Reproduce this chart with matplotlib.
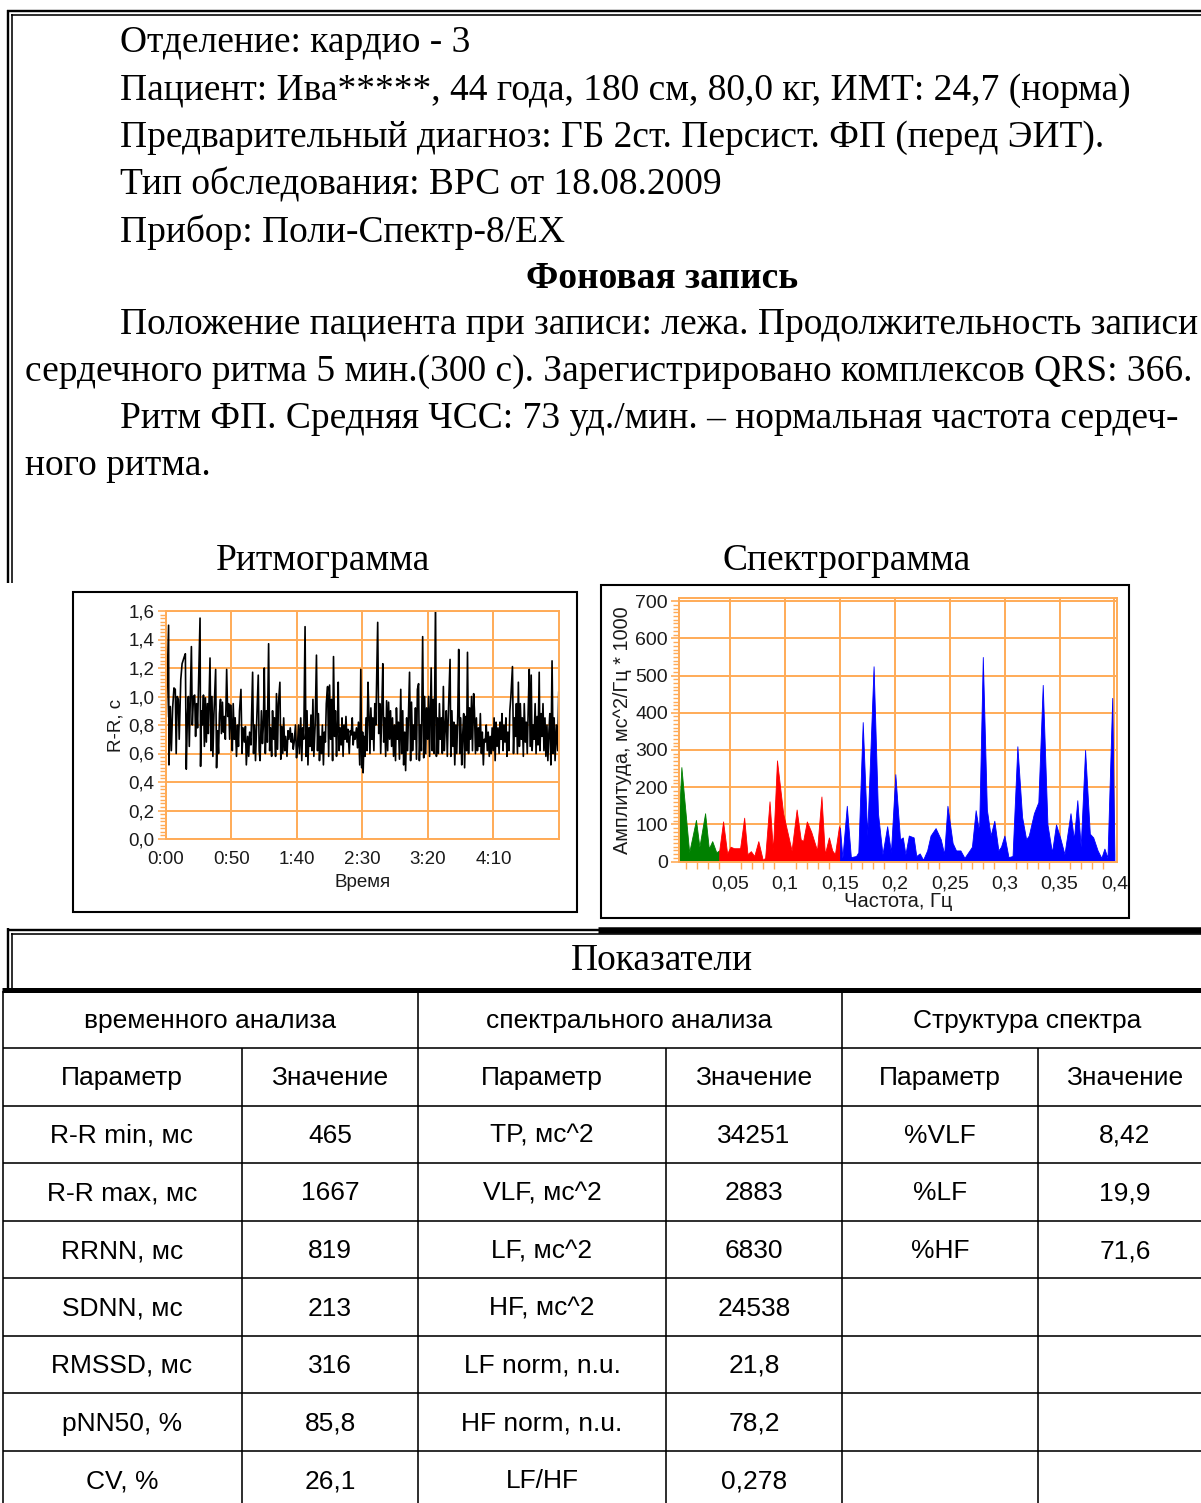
import matplotlib
matplotlib.use('Agg')
import matplotlib.pyplot as plt
from matplotlib.patches import Rectangle
from matplotlib.ticker import MultipleLocator, FuncFormatter

W, H = 1201, 1503
SERIF = 'Liberation Serif'
SANS = 'Liberation Sans'
GRID = '#ffab57'

# ---- report text ----
info_lines = [
    "Отделение: кардио - 3",
    "Пациент: Ива*****, 44 года, 180 см, 80,0 кг, ИМТ: 24,7 (норма)",
    "Предварительный диагноз: ГБ 2ст. Персист. ФП (перед ЭИТ).",
    "Тип обследования: ВРС от 18.08.2009",
    "Прибор: Поли-Спектр-8/EX",
]
section_title = "Фоновая запись"
paragraph_lines = [
    ("Положение пациента при записи: лежа. Продолжительность записи", True),
    ("сердечного ритма 5 мин.(300 с). Зарегистрировано комплексов QRS: 366.", False),
    ("Ритм ФП. Средняя ЧСС: 73 уд./мин. – нормальная частота сердеч-", True),
    ("ного ритма.", False),
]

# ---- rhythmogram: R-R intervals (s) against record time (s) ----
rr_time = [
    0.5, 2.2, 2.5, 3.5, 4.3, 5.3, 6.3, 7.3, 8.0, 8.8, 9.6, 10.3, 11.5, 12.5, 14.2, 15.0,
    15.7, 16.5, 17.3, 18.0, 19.6, 20.3, 21.2, 22.1, 22.8, 23.5, 24.3, 26.2, 26.6, 27.3,
    28.0, 28.8, 29.5, 30.3, 31.0, 31.8, 32.5, 33.8, 34.5, 35.3, 36.0, 36.8, 38.1, 38.8,
    39.5, 40.3, 41.0, 41.8, 42.5, 43.3, 44.0, 44.8, 45.5, 46.5, 47.3, 48.0, 48.8, 49.5,
    50.3, 50.8, 51.5, 52.3, 53.0, 54.0, 54.8, 55.5, 56.3, 57.4, 58.2, 59.0, 60.0, 60.8,
    61.5, 62.5, 63.3, 64.0, 65.0, 66.3, 67.0, 67.8, 68.5, 69.5, 70.6, 71.3, 72.0, 73.0,
    73.8, 74.5, 75.2, 76.0, 76.8, 77.5, 78.5, 79.3, 80.0, 80.8, 81.5, 82.3, 83.0, 83.8,
    84.5, 85.3, 86.0, 87.1, 87.8, 88.5, 89.3, 90.0, 90.8, 91.5, 92.5, 93.3, 94.0, 95.0,
    95.8, 96.5, 97.3, 98.0, 99.0, 99.8, 100.5, 101.3, 102.0, 103.0, 103.8, 104.5, 105.3,
    106.3, 107.0, 107.8, 108.5, 109.3, 110.0, 110.8, 111.5, 112.3, 113.0, 114.0, 115.0,
    115.8, 116.5, 117.3, 118.0, 118.8, 119.5, 120.3, 121.0, 121.8, 122.5, 123.5, 124.3,
    125.0, 125.8, 126.5, 127.3, 128.0, 128.8, 129.5, 130.3, 131.0, 131.6, 132.3, 133.0,
    133.8, 134.5, 135.3, 136.0, 136.8, 137.5, 138.3, 139.0, 140.0, 140.8, 141.5, 142.3,
    143.0, 143.8, 144.5, 145.5, 146.3, 147.0, 148.0, 148.8, 149.5, 150.2, 150.6, 151.3,
    152.0, 152.8, 153.5, 154.3, 155.0, 155.8, 156.5, 157.3, 158.0, 158.8, 159.5, 160.3,
    161.7, 162.5, 163.3, 164.0, 164.8, 165.6, 166.3, 167.0, 167.8, 168.5, 169.3, 170.0,
    170.8, 171.5, 172.3, 173.0, 173.8, 174.5, 175.3, 176.0, 176.8, 177.5, 178.3, 179.3,
    180.0, 180.8, 181.5, 182.3, 183.0, 183.8, 184.5, 185.3, 186.0, 186.8, 187.5, 188.3,
    189.0, 189.8, 190.5, 191.3, 192.0, 192.9, 193.5, 194.3, 195.0, 196.0, 196.8, 197.5,
    198.3, 199.0, 199.8, 200.5, 201.3, 202.5, 203.3, 204.0, 204.8, 205.8, 206.5, 207.3,
    208.0, 208.8, 209.5, 210.3, 211.0, 211.8, 212.5, 213.3, 214.0, 214.8, 215.5, 216.9,
    217.5, 218.3, 219.0, 219.8, 220.5, 221.3, 222.0, 222.8, 223.5, 224.3, 225.0, 225.8,
    226.5, 227.3, 228.0, 228.8, 229.5, 230.2, 231.0, 231.8, 232.5, 233.3, 234.0, 234.9,
    235.5, 236.3, 237.0, 237.8, 238.5, 239.3, 240.0, 240.8, 241.5, 242.3, 243.0, 243.8,
    244.5, 245.3, 246.0, 246.8, 247.5, 248.3, 249.0, 249.8, 250.5, 251.3, 252.0, 252.8,
    253.5, 254.3, 255.0, 255.8, 256.5, 257.3, 258.0, 258.8, 259.5, 260.3, 261.0, 261.8,
    262.5, 263.3, 264.5, 265.3, 266.0, 266.8, 267.5, 268.3, 269.0, 269.8, 270.5, 271.3,
    272.0, 272.8, 273.5, 274.3, 275.0, 275.8, 276.5, 277.3, 278.0, 278.8, 279.5, 280.3,
    281.0, 281.8, 282.5, 283.3, 284.0, 284.9, 285.5, 286.3, 287.0, 287.8, 288.5, 289.3,
    290.0, 290.8, 291.5, 292.3, 293.0, 293.8, 294.7, 295.5, 296.3, 297.0, 298.0, 299.0,
    299.8,
]
rr_value = [
    0.86, 1.50, 0.52, 0.93, 0.62, 0.92, 1.06, 1.05, 0.60, 1.00, 0.98, 0.70, 1.12, 1.23, 1.28, 1.30,
    0.49, 0.85, 1.00, 0.65, 1.35, 0.80, 1.00, 1.01, 0.72, 0.95, 0.78, 1.55, 0.51, 0.90,
    0.80, 1.01, 0.65, 0.99, 0.68, 0.95, 0.74, 1.27, 0.62, 1.00, 0.58, 0.88, 1.19, 0.50,
    0.76, 0.60, 0.88, 0.98, 0.74, 0.96, 0.75, 0.86, 0.70, 1.19, 0.86, 0.95, 0.70, 0.94,
    0.78, 0.62, 0.95, 0.70, 0.85, 0.58, 0.80, 0.65, 0.90, 1.05, 0.60, 0.78, 0.68, 0.79,
    0.52, 0.72, 0.58, 0.75, 0.66, 1.17, 0.60, 0.80, 0.55, 0.85, 1.15, 0.62, 0.55, 0.90,
    0.67, 0.80, 1.20, 0.60, 0.90, 0.68, 1.37, 0.62, 0.78, 0.58, 0.90, 0.70, 0.85, 0.58,
    1.02, 0.63, 0.95, 1.10, 0.56, 0.79, 0.60, 0.85, 0.62, 0.72, 0.58, 0.76, 0.70, 0.78,
    0.68, 0.74, 0.63, 0.68, 0.80, 0.57, 0.65, 0.80, 0.60, 0.85, 0.55, 0.78, 0.70,
    1.49, 0.58, 0.90, 0.52, 0.78, 0.65, 0.87, 0.62, 0.98, 0.58, 0.80, 1.29,
    0.62, 0.88, 0.55, 0.72, 0.60, 0.80, 0.52, 0.75, 0.68, 0.95, 1.07, 0.58,
    1.08, 0.70, 0.98, 0.55, 1.28, 0.72, 0.90, 0.58, 0.80, 1.10, 0.62, 0.78,
    0.66, 0.85, 0.58, 0.80, 0.70, 0.86, 0.68, 0.77, 0.60, 0.76, 0.73, 0.85,
    0.66, 0.75, 0.70, 0.78, 0.64, 0.82, 0.52, 1.19, 0.50, 0.75, 0.465, 0.72,
    0.58, 0.85, 0.62, 1.10, 0.88, 0.60, 0.92, 0.70, 0.85, 0.62, 0.95, 0.80,
    1.52, 0.74, 0.95, 0.60, 0.88, 1.23, 0.68, 0.85, 0.58, 0.97, 0.62, 0.96,
    0.70, 0.90, 0.65, 0.85, 0.58, 0.80, 0.55, 0.92, 0.70, 0.82, 0.56, 1.05,
    0.60, 0.90, 0.52, 0.75, 0.48, 0.85, 0.62, 0.90, 1.17, 0.55, 0.96, 0.62,
    0.80, 0.70, 0.92, 0.56, 1.05, 1.09, 0.55, 0.80, 0.62, 1.42, 0.57, 1.00,
    0.60, 0.92, 0.70, 1.00, 0.58, 1.20, 0.62, 0.98, 0.60, 1.667, 0.58, 0.85,
    0.60, 0.95, 0.70, 0.85, 0.60, 1.07, 0.62, 0.80, 0.90, 0.58, 0.85, 1.26,
    0.58, 0.90, 0.65, 0.82, 0.52, 0.80, 0.60, 0.88, 1.33, 0.60, 0.85, 0.52,
    0.72, 0.88, 0.50, 0.86, 0.62, 1.31, 0.60, 0.92, 0.70, 1.00, 0.62, 1.02,
    0.90, 0.60, 0.85, 0.62, 0.78, 0.65, 0.88, 0.60, 0.75, 0.52, 0.70, 0.68,
    0.80, 0.62, 0.75, 0.58, 0.72, 0.60, 0.78, 0.62, 0.85, 0.55, 0.82, 0.65,
    0.78, 0.60, 0.82, 0.70, 0.88, 0.62, 0.80, 0.68, 0.85, 0.58, 0.75, 0.62,
    0.90, 1.00, 1.21, 0.60, 0.85, 0.72, 0.95, 0.60, 1.10, 0.65, 0.95, 0.70,
    0.85, 0.58, 0.95, 0.68, 0.82, 0.60, 0.90, 1.19, 0.65, 1.15, 0.62, 0.80,
    0.70, 0.95, 0.60, 0.86, 0.66, 1.17, 0.62, 0.88, 0.72, 0.95, 0.62, 0.85,
    0.58, 0.80, 0.55, 0.75, 0.88, 0.52, 1.25, 0.60, 0.85, 0.55, 0.80, 0.62,
    1.03,
]
time_ticks = [0, 50, 100, 150, 200, 250]
time_labels = ['0:00', '0:50', '1:40', '2:30', '3:20', '4:10']

# ---- spectrogram: spectral density, ms^2/Hz * 1000 ----
spec_freq = [
    0.0033, 0.0055, 0.0126, 0.0188, 0.0219, 0.0271, 0.0305, 0.0336, 0.0373, 0.04,
    0.0435, 0.0472, 0.0503, 0.0534, 0.059, 0.0627, 0.0657, 0.0688, 0.0719, 0.0756,
    0.0796, 0.0818, 0.0858, 0.0889, 0.0926, 0.0982, 0.1059, 0.1105, 0.1142, 0.1164,
    0.1198, 0.1238, 0.1291, 0.1331, 0.1362, 0.1399, 0.1429, 0.1454, 0.1491, 0.15,
    0.1522, 0.1562, 0.1599, 0.1646, 0.1667, 0.1707, 0.1748, 0.1806, 0.1846, 0.1887,
    0.193, 0.1964, 0.2004, 0.2047, 0.2072, 0.2096, 0.2127, 0.2171, 0.2195, 0.2226,
    0.2257, 0.2294, 0.2325, 0.2371, 0.2418, 0.2449, 0.2479, 0.2526, 0.2557, 0.2597,
    0.2634, 0.268, 0.2702, 0.2736, 0.2767, 0.2801, 0.2838, 0.2872, 0.2906, 0.2943,
    0.2967, 0.2998, 0.3035, 0.3072, 0.3116, 0.3159, 0.3196, 0.322, 0.3267, 0.3307,
    0.3347, 0.339, 0.3431, 0.3468, 0.3505, 0.3545, 0.36, 0.3631, 0.3662, 0.3693,
    0.3733, 0.3776, 0.3807, 0.3847, 0.3881, 0.3909, 0.3937, 0.398, 0.4,
]
spec_amp = [
    120, 254, 25, 112, 40, 130, 35, 55, 25, 30,
    108, 22, 40, 36, 36, 118, 20, 28, 15, 55,
    5, 10, 162, 30, 272, 130, 30, 140, 60, 55,
    108, 80, 30, 175, 20, 65, 30, 20, 95, 90,
    10, 150, 12, 15, 25, 375, 70, 525, 130, 20,
    95, 25, 235, 60, 65, 20, 70, 65, 15, 22,
    5, 30, 70, 90, 60, 20, 150, 50, 30, 30,
    10, 30, 40, 138, 80, 550, 140, 70, 110, 30,
    40, 70, 12, 15, 310, 120, 60, 70, 130, 160,
    475, 100, 25, 100, 65, 20, 130, 60, 165, 40,
    300, 75, 65, 30, 10, 35, 10, 440, 20,
]
bands = [(0.0, 0.04, '#008000'), (0.04, 0.15, '#ff0000'), (0.15, 0.41, '#0000ff')]
freq_ticks = [0.05, 0.1, 0.15, 0.2, 0.25, 0.3, 0.35, 0.4]

# ---- indices table ----
time_params = ["R-R min, мс", "R-R max, мс", "RRNN, мс", "SDNN, мс", "RMSSD, мс", "pNN50, %", "CV, %"]
time_values = ["465", "1667", "819", "213", "316", "85,8", "26,1"]
spec_params = ["TP, мс^2", "VLF, мс^2", "LF, мс^2", "HF, мс^2", "LF norm, n.u.", "HF norm, n.u.", "LF/HF"]
spec_values = ["34251", "2883", "6830", "24538", "21,8", "78,2", "0,278"]
struct_params = ["%VLF", "%LF", "%HF"]
struct_values = ["8,42", "19,9", "71,6"]
group_titles = ["временного анализа", "спектрального анализа", "Структура спектра"]


fig = plt.figure(figsize=(W / 100, H / 100), dpi=100)
page = fig.add_axes([0, 0, 1, 1])
page.set_xlim(0, W)
page.set_ylim(H, 0)
page.axis('off')


def hline(y, x0, x1, w):
    page.plot([x0, x1], [y, y], color='black', lw=w * 0.72, solid_capstyle='butt')


def vline(x, y0, y1, w):
    page.plot([x, x], [y0, y1], color='black', lw=w * 0.72, solid_capstyle='butt')


def px_axes(left, top, right, bottom):
    return fig.add_axes([left / W, 1 - bottom / H, (right - left) / W, (bottom - top) / H])


def comma(fmt):
    return FuncFormatter(lambda v, p: format(v, fmt).replace('.', ','))


# double frame around the header block
hline(11.2, 7.3, W, 2.4)
hline(14.9, 11, W, 1.6)
vline(8.4, 10, 583, 2.4)
vline(11.8, 14.1, 583, 1.6)

# header text
TXT = 27
for i, line in enumerate(info_lines):
    page.text(120, 43 + i * 47.3, line, family=SERIF, fontsize=TXT, va='center')
page.text(662, 279, section_title, family=SERIF, fontsize=TXT, weight='bold', va='center', ha='center')
for i, (line, indent) in enumerate(paragraph_lines):
    page.text(120 if indent else 25, 325 + i * 47, line, family=SERIF, fontsize=TXT, va='center')

page.text(323, 561, "Ритмограмма", family=SERIF, fontsize=TXT, ha='center', va='center')
page.text(847, 561, "Спектрограмма", family=SERIF, fontsize=TXT, ha='center', va='center')

# chart frames
page.add_patch(Rectangle((73, 592), 504, 320, fill=False, ec='black', lw=1.5))
page.add_patch(Rectangle((601, 585), 528, 333, fill=False, ec='black', lw=1.5))


def style_chart(ax, size):
    ax.set_facecolor('white')
    for s in ax.spines.values():
        s.set_color(GRID)
        s.set_linewidth(1.4)
    ax.grid(True, which='major', color=GRID, lw=1.4)
    ax.set_axisbelow(True)
    ax.tick_params(which='both', colors=GRID, labelcolor='#1a1a1a', labelsize=size)
    for lab in ax.get_xticklabels() + ax.get_yticklabels():
        lab.set_family(SANS)


# rhythmogram
ax1 = px_axes(165.7, 611, 559, 839)
ax1.plot(rr_time, rr_value, color='black', lw=1.2, clip_on=True)
ax1.set_xlim(0, 300)
ax1.set_ylim(0, 1.6)
ax1.set_xticks(time_ticks)
ax1.set_xticklabels(time_labels)
ax1.yaxis.set_major_locator(MultipleLocator(0.2))
ax1.yaxis.set_minor_locator(MultipleLocator(0.025))
ax1.yaxis.set_major_formatter(comma('.1f'))
style_chart(ax1, 13.5)
ax1.tick_params(axis='x', length=0, pad=9)
ax1.tick_params(axis='y', which='major', length=6, width=1.2, pad=2)
ax1.tick_params(axis='y', which='minor', length=4, width=1.0)
ax1.set_xlabel("Время", family=SANS, fontsize=13.5, color='#1a1a1a', labelpad=4)
ax1.set_ylabel("R-R, с", family=SANS, fontsize=13.5, color='#1a1a1a', labelpad=3)

# spectrogram
ax2 = px_axes(679, 597.8, 1116.6, 861.6)
for lo, hi, col in bands:
    mask = [lo <= f <= hi for f in spec_freq]
    ax2.fill_between(spec_freq, 0, spec_amp, where=mask, color=col, lw=0.6, ec=col)
ax2.set_xlim(1 / 300, 0.402)
ax2.set_ylim(0, 709)
ax2.set_xticks(freq_ticks)
ax2.xaxis.set_major_formatter(comma('g'))
ax2.xaxis.set_minor_locator(MultipleLocator(0.01))
ax2.yaxis.set_major_locator(MultipleLocator(100))
ax2.yaxis.set_minor_locator(MultipleLocator(10))
style_chart(ax2, 14)
ax2.tick_params(axis='x', which='major', length=0, pad=10)
ax2.tick_params(axis='x', which='minor', length=5, width=1.0)
ax2.tick_params(axis='y', which='major', length=6, width=1.2, pad=2)
ax2.tick_params(axis='y', which='minor', length=4, width=1.0)
ax2.set_xlabel("Частота, Гц", family=SANS, fontsize=14.5, color='#1a1a1a', labelpad=0)
ax2.set_ylabel("Амплитуда, мс^2/Гц * 1000", family=SANS, fontsize=14.3, color='#1a1a1a', labelpad=2)

# "Показатели" title box
hline(929.5, 598, W, 6.5)
hline(929.5, 7.3, W, 2.4)
hline(933.6, 11, W, 1.6)
vline(8.4, 928.3, 989, 2.4)
vline(11.8, 932.8, 989, 1.6)
hline(989.5, 2, W, 5)
page.text(662, 961, "Показатели", family=SERIF, fontsize=TXT, ha='center', va='center')

# indices table grid
row_lines = [1048, 1106, 1163, 1221, 1278, 1336, 1393, 1451]
for y in row_lines:
    hline(y, 3, W, 1.6)
for x in (3, 418, 842):
    vline(x, 991, H, 1.6)
for x in (242, 666, 1038):
    vline(x, 1048, H, 1.6)

CELL = 19
group_x = [210, 629, 1027]
col_x = [122, 330, 542, 754, 940, 1125]
for gx, title in zip(group_x, group_titles):
    page.text(gx, 1021, title, family=SANS, fontsize=CELL, ha='center', va='center')
for cx, head in zip(col_x, ["Параметр", "Значение"] * 3):
    page.text(cx, 1078, head, family=SANS, fontsize=CELL, ha='center', va='center')

columns = [time_params, time_values, spec_params, spec_values, struct_params, struct_values]
for cx, col in zip(col_x, columns):
    for r, txt in enumerate(col):
        page.text(cx, 1136 + r * 57.5, txt, family=SANS, fontsize=CELL, ha='center', va='center')

fig.savefig('out.png', dpi=100)
